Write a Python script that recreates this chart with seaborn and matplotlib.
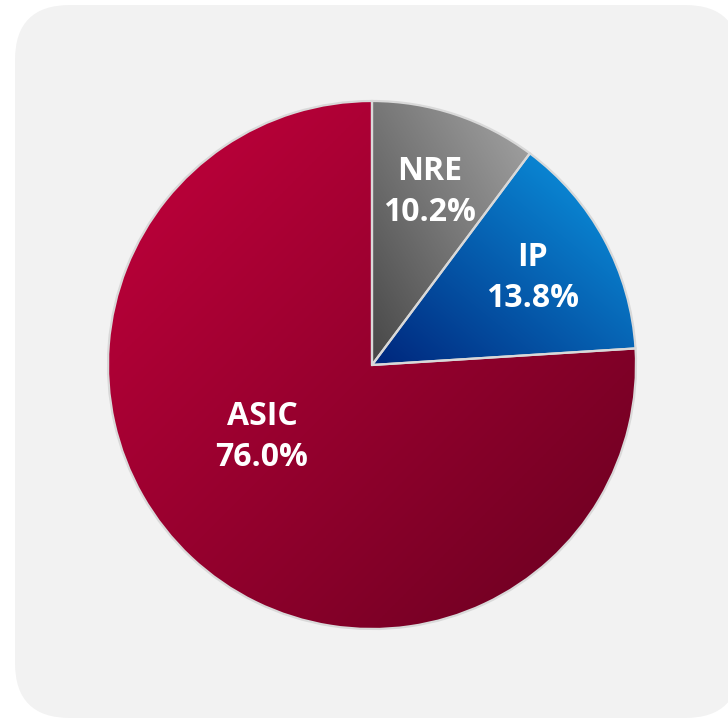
import numpy as np
import matplotlib.pyplot as plt
import seaborn as sns
from matplotlib.colors import LinearSegmentedColormap
from matplotlib.patches import FancyBboxPatch

labels = ['NRE', 'IP', 'ASIC']
shares = [10.2, 13.8, 76.0]
# light end / dark end of each slice's gradient
light_colors = ['#a6a6a6', '#0c9be6', '#c4003c']
dark_colors = ['#474747', '#00267c', '#680020']
# gradient direction: (dx, dy) from dark to light in data units
grad_dirs = [(1, 1), (1, 1), (-1, 1)]

sns.set_theme(style="white")
plt.rcParams['font.family'] = ['Open Sans', 'DejaVu Sans']

W, H = 728, 719
fig = plt.figure(figsize=(W / 100, H / 100), dpi=100)
ax = fig.add_axes([0, 0, 1, 1])
ax.set_xlim(0, W)
ax.set_ylim(0, H)
ax.axis('off')

bg = FancyBboxPatch((15, 1), 725, 713, boxstyle="round,pad=0,rounding_size=55",
                    facecolor='#f2f2f2', edgecolor='none', zorder=0)
ax.add_patch(bg)

center = (372, H - 365)
radius = 264
wedges, _ = ax.pie(shares, startangle=90, counterclock=False, center=center,
                   radius=radius, colors=light_colors,
                   wedgeprops=dict(edgecolor='#d9d9d9', linewidth=1.6))
ax.set_xlim(0, W)
ax.set_ylim(0, H)
ax.set_aspect('equal')

# gradient fill clipped to each wedge
for w, lc, dc, (gx, gy) in zip(wedges, light_colors, dark_colors, grad_dirs):
    ext = w.get_path().get_extents(w.get_transform() - ax.transData)
    x0, y0, x1, y1 = ext.x0, ext.y0, ext.x1, ext.y1
    xs = np.linspace(0, 1, 200)
    ys = np.linspace(0, 1, 200)
    X, Y = np.meshgrid(xs, ys)
    px = X if gx > 0 else 1 - X
    py = Y if gy > 0 else 1 - Y
    t = (px + py) / 2
    cmap = LinearSegmentedColormap.from_list('g', [dc, lc])
    im = ax.imshow(t, cmap=cmap, extent=(x0, x1, y0, y1), origin='lower',
                   aspect='auto', zorder=1, interpolation='bilinear')
    im.set_clip_path(w)
    w.set_facecolor('none')
    w.set_zorder(2)

# labels
for w, lab, val in zip(wedges, labels, shares):
    ang = np.deg2rad((w.theta1 + w.theta2) / 2)
    dist = 0.69 * radius
    x = center[0] + dist * np.cos(ang)
    y = center[1] + dist * np.sin(ang)
    if lab == 'ASIC':
        x, y = 262, H - 437
    ax.text(x, y, f"{lab}\n{val:.1f}%", ha='center', va='center',
            color='white', fontsize=23, fontweight='bold', linespacing=1.3,
            zorder=3)

fig.savefig('out.png', dpi=100, facecolor='white')
